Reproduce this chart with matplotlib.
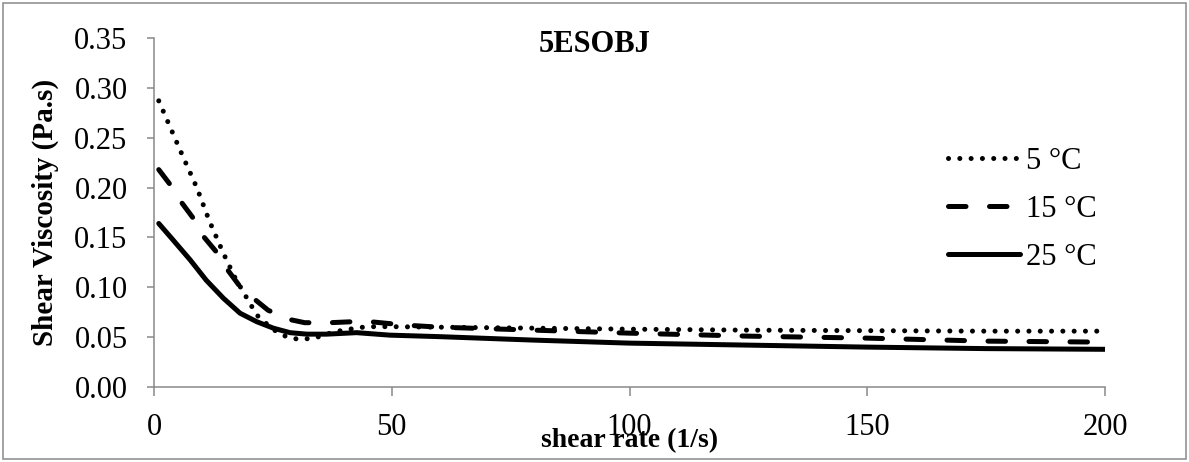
import matplotlib.pyplot as plt
from matplotlib.patches import Rectangle

plt.rcParams['font.family'] = ['Liberation Serif', 'DejaVu Serif']

# shear rate (1/s) and viscosity (Pa.s)
x_5 = [1, 3, 6, 9, 11.6, 14.6, 17, 20.4, 22, 25.3, 27.8, 30.2, 32.7, 34.8, 37, 39.7,
       44.7, 50, 60, 80, 100, 125, 150, 175, 200]
y_5 = [0.287, 0.265, 0.232, 0.200, 0.167, 0.134, 0.110, 0.082, 0.070, 0.057, 0.0505,
       0.048, 0.0485, 0.0505, 0.054, 0.057, 0.0605, 0.0605, 0.060, 0.059, 0.058, 0.057,
       0.0565, 0.056, 0.056]

x_15 = [1, 3.4, 5.8, 8.3, 10.4, 13.2, 15.4, 18.1, 20.9, 24, 28.2, 31.7, 37, 41.9, 45.4,
        53, 60, 80, 100, 125, 150, 175, 200]
y_15 = [0.218, 0.203, 0.185, 0.169, 0.151, 0.135, 0.118, 0.1007, 0.089, 0.077, 0.068,
        0.0645, 0.0645, 0.0655, 0.0655, 0.062, 0.060, 0.057, 0.054, 0.051, 0.049, 0.046,
        0.045]

x_25 = [1, 4, 7.6, 11, 14.6, 18.1, 21.6, 25.1, 28.6, 32.1, 36.3, 42.6, 49.6, 60, 80,
        100, 125, 150, 175, 200]
y_25 = [0.164, 0.1475, 0.1275, 0.107, 0.089, 0.074, 0.0655, 0.059, 0.0545, 0.053, 0.053,
        0.0545, 0.052, 0.0505, 0.047, 0.044, 0.042, 0.040, 0.0385, 0.0378]

labels = ['5 °C', '15 °C', '25 °C']
x_ticks = [0, 50, 100, 150, 200]
y_ticks = [0.00, 0.05, 0.10, 0.15, 0.20, 0.25, 0.30, 0.35]

W, H = 1189, 462
fig = plt.figure(figsize=(W / 100, H / 100), dpi=100)
ax = fig.add_axes([154 / W, 1 - 387 / H, (1105 - 154) / W, (387 - 38) / H])

lw = 3.6
ax.plot(x_5, y_5, color='black', lw=lw, linestyle=(0, (0.01, 2.25)),
        dash_capstyle='round', label=labels[0])
ax.plot(x_15, y_15, color='black', lw=lw, linestyle=(0, (3.5, 4.7)),
        dash_capstyle='round', label=labels[1])
ax.plot(x_25, y_25, color='black', lw=lw, solid_capstyle='round', label=labels[2])

ax.set_xlim(0, 200)
ax.set_ylim(0, 0.35)
ax.set_xticks(x_ticks)
ax.set_yticks(y_ticks)
ax.set_yticklabels(['%.2f' % v for v in y_ticks])
ax.tick_params(axis='x', direction='out', length=6.5, width=1.1, color='#898989',
               labelsize=22, pad=12)
ax.tick_params(axis='y', direction='out', length=5, width=1.1, color='#898989',
               labelsize=22, pad=14)
for s in ['top', 'right']:
    ax.spines[s].set_visible(False)
for s in ['left', 'bottom']:
    ax.spines[s].set_color('#898989')
    ax.spines[s].set_linewidth(1.1)

# the axis title sits over the "100" label, as in the reference
ax.text(0.5, (387 - 441) / 349, 'shear rate (1/s)', transform=ax.transAxes,
        ha='center', va='center', fontsize=20, fontweight='bold')
ax.text((45 - 154) / 951, 0.5, 'Shear Viscosity (Pa.s)', transform=ax.transAxes,
        ha='center', va='center', rotation=90, fontsize=21, fontweight='bold')
fig.text(0.5, 1 - 45 / H, '5ESOBJ', ha='center', va='center', fontsize=22,
         fontweight='bold')

ax.legend(loc='upper left', bbox_to_anchor=(948 / W, 1 - 147 / H),
          bbox_transform=fig.transFigure, frameon=False, fontsize=22,
          handlelength=2.35, handletextpad=0.2, labelspacing=0.62,
          borderpad=0, borderaxespad=0)

fig.patches.append(Rectangle((3 / W, 3 / H), (W - 6) / W, (H - 6) / H,
                             transform=fig.transFigure, fill=False,
                             edgecolor='#898989', lw=1.1))

fig.savefig('out.png', dpi=100)
